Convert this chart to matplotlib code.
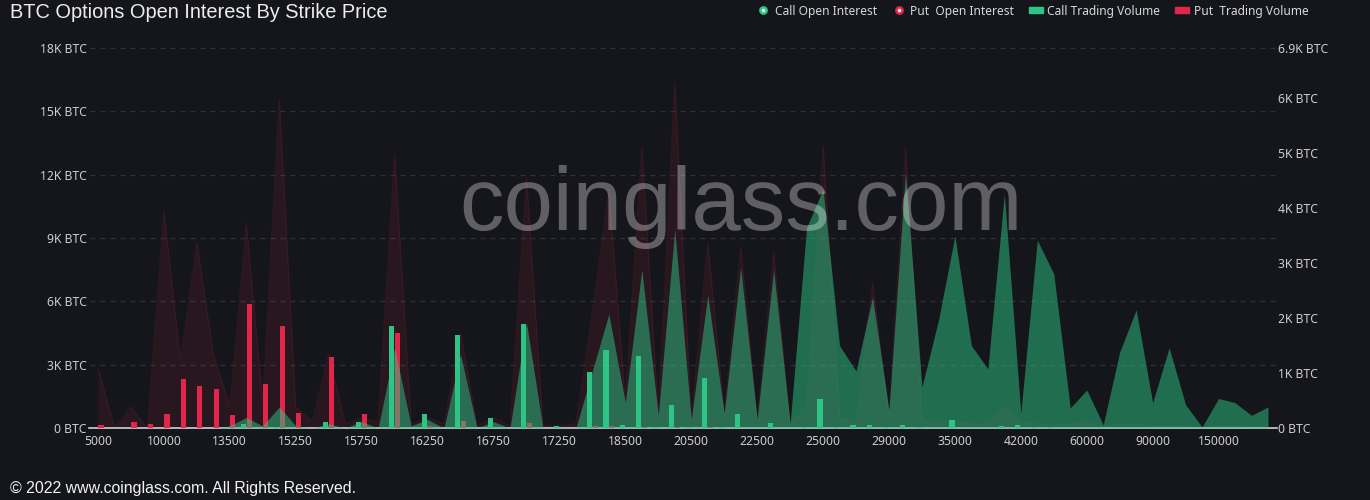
import matplotlib.pyplot as plt
from matplotlib.lines import Line2D
from matplotlib.patches import Rectangle
import numpy as np

plt.rcParams['font.family'] = ['Noto Sans', 'DejaVu Sans']

# Strike prices (only every 4th one is labelled on the axis)
strikes = [5000, 6000, 7000, 8000, 10000, 11000, 12000, 13000, 13500, 14000,
           14500, 15000, 15250, 15375, 15500, 15625, 15750, 15875, 16000, 16125,
           16250, 16375, 16500, 16625, 16750, 16875, 17000, 17125, 17250, 17500,
           17750, 18000, 18500, 19000, 19500, 20000, 20500, 21000, 21500, 22000,
           22500, 23000, 23500, 24000, 25000, 26000, 27000, 28000, 29000, 30000,
           32000, 34000, 35000, 36000, 38000, 40000, 42000, 45000, 50000, 55000,
           60000, 65000, 70000, 80000, 90000, 100000, 120000, 140000, 150000, 200000,
           250000, 300000]

# Open interest in K BTC (left axis)
call_oi = [0, 0, 0, 0, 0, 0, 0, 0, 0.1, 0.5,
           0.1, 1.0, 0.1, 0, 0.2, 0, 0.3, 0, 3.8, 0.1,
           0.4, 0, 3.5, 0, 0.3, 0, 5.0, 0, 0.05, 0,
           2.7, 5.4, 1.2, 7.5, 0.6, 9.4, 0.4, 6.3, 0.7, 7.6,
           0.4, 7.5, 0.2, 9.5, 11.3, 3.9, 2.7, 6.2, 0.85, 12.1,
           1.95, 5.1, 9.1, 3.9, 2.8, 11.1, 0.7, 8.9, 7.3, 0.95,
           1.8, 0.15, 3.6, 5.6, 1.2, 3.8, 1.1, 0.05, 1.4, 1.2,
           0.6, 1.0]
put_oi = [2.85, 0, 1.0, 0, 10.3, 3.2, 8.8, 3.5, 1.0, 9.7,
          1.2, 15.6, 1.0, 0.3, 3.5, 0.2, 0.5, 0.3, 13.0, 0.2,
          0.5, 0.2, 4.5, 0.1, 0.5, 0.1, 11.9, 0.1, 0.1, 0.2,
          5.5, 11.3, 1.2, 13.3, 0.6, 16.4, 0.4, 8.8, 0.7, 8.6,
          0.4, 8.3, 0.2, 1.0, 13.4, 0.5, 0.3, 6.9, 0.5, 13.3,
          0.3, 0.3, 0.3, 0.2, 0.2, 1.0, 0.3, 0.2, 0.2, 0.2,
          0.3, 0.05, 0.2, 0.2, 0.1, 0.1, 0.1, 0.0, 0.1, 0.1,
          0.05, 0.05]

# Trading volume in K BTC (right axis)
call_vol = [0, 0, 0, 0, 0, 0, 0, 0, 0, 0.07,
            0, 0.02, 0, 0, 0.1, 0, 0.11, 0, 1.85, 0,
            0.26, 0, 1.68, 0, 0.18, 0, 1.88, 0, 0.03, 0,
            1.01, 1.41, 0.05, 1.30, 0.02, 0.41, 0.02, 0.91, 0.01, 0.25,
            0, 0.085, 0, 0.02, 0.53, 0.02, 0.05, 0.05, 0.02, 0.05,
            0.01, 0, 0.15, 0.005, 0, 0.03, 0.05, 0.02, 0.01, 0,
            0, 0, 0, 0, 0, 0, 0, 0, 0, 0,
            0, 0]
put_vol = [0.05, 0, 0.11, 0.07, 0.25, 0.89, 0.76, 0.71, 0.23, 2.26,
           0.79, 1.85, 0.27, 0, 1.29, 0, 0.25, 0, 1.73, 0,
           0.04, 0, 0.13, 0, 0, 0, 0.085, 0, 0, 0,
           0.03, 0.04, 0, 0.01, 0, 0.02, 0, 0.02, 0, 0,
           0, 0, 0, 0, 0, 0, 0, 0, 0, 0,
           0, 0, 0, 0, 0, 0, 0, 0, 0, 0,
           0, 0, 0, 0, 0, 0, 0, 0, 0, 0,
           0, 0]

left_ticks = [0, 3, 6, 9, 12, 15, 18]
left_labels = ['0 BTC', '3K BTC', '6K BTC', '9K BTC', '12K BTC', '15K BTC', '18K BTC']
right_ticks = [0, 1, 2, 3, 4, 5, 6, 6.9]
right_labels = ['0 BTC', '1K BTC', '2K BTC', '3K BTC', '4K BTC', '5K BTC', '6K BTC', '6.9K BTC']

bg = '#15161b'
green = '#2ec486'
red = '#e2264b'
tick_col = '#cdcdcd'

W, H = 1370, 500
def fx(px):
    return px / W
def fy(py):
    return 1 - py / H

fig = plt.figure(figsize=(13.7, 5.0), dpi=100, facecolor=bg)
ax = fig.add_axes([fx(98), fy(428), 1170 / W, 380 / H])
ax.set_facecolor(bg)
ax2 = ax.twinx()

x = np.arange(len(strikes))

# put OI area sits at the bottom, then put bars, call OI area, call bars
ax.fill_between(x, 0, put_oi, color=red, alpha=0.1, lw=0, zorder=2)
ax.plot(x, put_oi, color=red, alpha=0.12, lw=0.8, zorder=2)
ax2.bar(x + 0.18, put_vol, 0.32, color=red, zorder=2)
ax2.fill_between(x, 0, call_oi, color=green, alpha=0.5, lw=0, zorder=3,
                 transform=ax.transData)
ax2.bar(x - 0.18, call_vol, 0.32, color=green, zorder=4)

ax.set_xlim(0, len(strikes) - 1)
ax.set_ylim(0, 18)
ax2.set_ylim(0, 6.9)

ax.set_yticks(left_ticks)
ax.set_yticklabels(left_labels)
ax2.set_yticks(right_ticks)
ax2.set_yticklabels(right_labels)
ax.set_xticks(x[::4])
ax.set_xticklabels([str(s) for s in strikes[::4]])

ax.tick_params(axis='y', length=0, pad=8, labelcolor=tick_col, labelsize=8.8)
ax2.tick_params(axis='y', length=0, pad=7, labelcolor=tick_col, labelsize=8.8)
ax.tick_params(axis='x', length=0, pad=5, labelcolor=tick_col, labelsize=8.8)

for a in (ax, ax2):
    for s in a.spines.values():
        s.set_visible(False)

# dashed split lines
for t in left_ticks[1:]:
    ax.axhline(t, xmin=-0.007, xmax=1.006, color='#303137', lw=0.9,
               linestyle=(0, (4, 4)), clip_on=False, zorder=1)
# axis line
ax.plot([-0.008, 1.008], [0, 0], transform=ax.transAxes, color='#d0d0d0',
        lw=1.2, clip_on=False, zorder=5)

# title, footer, watermark
fig.text(fx(10), fy(12), 'BTC Options Open Interest By Strike Price', va='center',
         ha='left', fontsize=14.4, family='Liberation Sans', color='#ededed')
fig.text(fx(10), fy(488), '\u00a9 2022 www.coinglass.com. All Rights Reserved.',
         va='center', ha='left', fontsize=11.4, family='Liberation Sans', color='#f2f2f2')
fig.text(fx(741), fy(230), 'coinglass.com', ha='center', va='baseline', fontsize=64,
         family='Liberation Sans', color='white', alpha=0.32, zorder=10)

# legend
leg_y = 10
fig.add_artist(Line2D([fx(763)], [fy(leg_y)], marker='o', markersize=4.5,
                      markerfacecolor='#e6e6e6', markeredgecolor=green,
                      markeredgewidth=1.8, transform=fig.transFigure))
fig.add_artist(Line2D([fx(898.5)], [fy(leg_y)], marker='o', markersize=4.5,
                      markerfacecolor='#e6e6e6', markeredgecolor=red,
                      markeredgewidth=1.8, transform=fig.transFigure))
fig.add_artist(Rectangle((fx(1028.5), fy(leg_y + 2.5)), 14 / W, 5 / H,
                         color=green, transform=fig.transFigure))
fig.add_artist(Rectangle((fx(1175), fy(leg_y + 2.5)), 14 / W, 5 / H,
                         color=red, transform=fig.transFigure))
leg_kw = dict(va='center', ha='left', fontsize=8.6, color='#d8d8d8')
fig.text(fx(775), fy(leg_y + 1.5), 'Call Open Interest', **leg_kw)
fig.text(fx(910.5), fy(leg_y + 1.5), 'Put  Open Interest', **leg_kw)
fig.text(fx(1047), fy(leg_y + 1.5), 'Call Trading Volume', **leg_kw)
fig.text(fx(1194), fy(leg_y + 1.5), 'Put  Trading Volume', **leg_kw)

fig.savefig('out.png', dpi=100, facecolor=bg)
